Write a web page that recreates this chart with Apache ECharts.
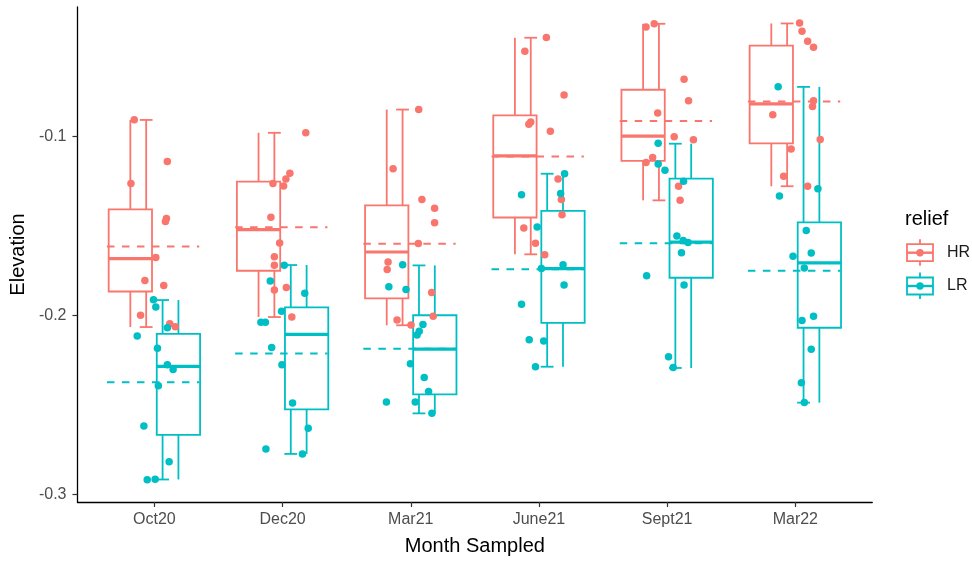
<!DOCTYPE html>
<html>
<head>
<meta charset="utf-8">
<script src="https://cdn.jsdelivr.net/npm/echarts@6/dist/echarts.min.js"></script>
<style>
  html, body { margin: 0; padding: 0; background: #fff; }
  #chart { width: 972px; height: 561px; }
</style>
</head>
<body>
<div id="chart"></div>
<script>
// x categories and y ticks
const months = ["Oct20", "Dec20", "Mar21", "June21", "Sept21", "Mar22"];
const yTicks = [-0.3, -0.2, -0.1];

// box stats per month: [lower whisker, q1, median, q3, upper whisker]
const hrStats = [
  [-0.2065, -0.1866, -0.1682, -0.1406, -0.0906],
  [-0.2009, -0.1750, -0.1520, -0.1251, -0.0978],
  [-0.2055, -0.1904, -0.1645, -0.1384, -0.0848],
  [-0.1658, -0.1452, -0.1107, -0.0881, -0.0446],
  [-0.1356, -0.1135, -0.0997, -0.0737, -0.0368],
  [-0.1277, -0.1037, -0.0816, -0.0490, -0.0366]
];
const lrStats = [
  [-0.2918, -0.2668, -0.2285, -0.2103, -0.1914],
  [-0.2775, -0.2526, -0.2106, -0.1955, -0.1718],
  [-0.2548, -0.2442, -0.2189, -0.1999, -0.1720],
  [-0.2287, -0.2042, -0.1738, -0.1415, -0.1207],
  [-0.2294, -0.1789, -0.1590, -0.1234, -0.1039],
  [-0.2488, -0.2069, -0.1706, -0.1479, -0.0721]
];

// group means (dashed lines)
const hrMean = [-0.1614, -0.1507, -0.1599, -0.1111, -0.0912, -0.0803];
const lrMean = [-0.2374, -0.2213, -0.2186, -0.1741, -0.1596, -0.1750];

// raw points: [month index, jitter, elevation]
const hrPoints = [
  [0, -0.157, -0.0905], [0, -0.183, -0.1262], [0, 0.101, -0.1138], [0, 0.094, -0.1457],
  [0, 0.086, -0.1474], [0, 0.011, -0.1676], [0, -0.074, -0.1804], [0, 0.073, -0.1832],
  [0, -0.108, -0.1999], [0, 0.120, -0.2047], [0, 0.163, -0.2064],
  [1, 0.181, -0.0978], [1, 0.057, -0.1205], [1, 0.026, -0.1236], [1, 0.008, -0.1276],
  [1, -0.075, -0.1262], [1, -0.091, -0.1450], [1, -0.023, -0.1594], [1, -0.064, -0.1671],
  [1, -0.064, -0.1719], [1, 0.029, -0.1844], [1, -0.064, -0.1857], [1, 0.072, -0.2009],
  [2, 0.062, -0.0847], [2, -0.138, -0.1179], [2, 0.087, -0.1351], [2, 0.186, -0.1400],
  [2, 0.186, -0.1481], [2, 0.059, -0.1597], [2, -0.177, -0.1701], [2, -0.184, -0.1743],
  [2, 0.163, -0.1872], [2, 0.175, -0.2005], [2, -0.107, -0.2025], [2, 0.002, -0.2054],
  [3, 0.058, -0.0444], [3, -0.110, -0.0521], [3, 0.196, -0.0766], [3, -0.064, -0.0917],
  [3, -0.079, -0.0930], [3, 0.089, -0.0969], [3, 0.149, -0.1236], [3, 0.175, -0.1351],
  [3, 0.180, -0.1437], [3, -0.118, -0.1511], [3, -0.027, -0.1596], [3, 0.045, -0.1660],
  [4, -0.101, -0.0368], [4, -0.165, -0.0386], [4, 0.132, -0.0679], [4, 0.167, -0.0798],
  [4, -0.074, -0.0867], [4, 0.055, -0.1000], [4, 0.205, -0.1017], [4, -0.113, -0.1116],
  [4, -0.165, -0.1144], [4, 0.089, -0.1277], [4, 0.101, -0.1356],
  [5, 0.033, -0.0364], [5, 0.052, -0.0410], [5, 0.096, -0.0466], [5, 0.142, -0.0499],
  [5, 0.142, -0.0798], [5, 0.134, -0.0831], [5, -0.176, -0.0877], [5, 0.194, -0.1015],
  [5, -0.033, -0.1069], [5, -0.091, -0.1221], [5, 0.096, -0.1277]
];
const lrPoints = [
  [0, -0.007, -0.1912], [0, 0.011, -0.1953], [0, 0.101, -0.2069], [0, -0.134, -0.2115],
  [0, 0.024, -0.2183], [0, 0.101, -0.2276], [0, 0.146, -0.2303], [0, 0.031, -0.2393],
  [0, -0.082, -0.2619], [0, 0.115, -0.2819], [0, -0.056, -0.2919], [0, 0.006, -0.2917],
  [1, 0.013, -0.1719], [1, -0.096, -0.1807], [1, 0.173, -0.1876], [1, -0.008, -0.1977],
  [1, -0.169, -0.2038], [1, -0.134, -0.2038], [1, -0.085, -0.2180], [1, -0.005, -0.2276],
  [1, 0.078, -0.2490], [1, 0.200, -0.2631], [1, -0.130, -0.2747], [1, 0.155, -0.2775],
  [2, -0.063, -0.1716], [2, -0.171, -0.1840], [2, -0.037, -0.1855], [2, 0.095, -0.2051],
  [2, 0.066, -0.2088], [2, 0.049, -0.2110], [2, -0.003, -0.2270], [2, 0.105, -0.2348],
  [2, 0.139, -0.2425], [2, -0.190, -0.2484], [2, 0.035, -0.2484], [2, 0.165, -0.2548],
  [3, 0.200, -0.1207], [3, 0.169, -0.1317], [3, -0.136, -0.1325], [3, -0.014, -0.1505],
  [3, 0.019, -0.1738], [3, 0.188, -0.1716], [3, 0.196, -0.1829], [3, -0.136, -0.1937],
  [3, -0.076, -0.2136], [3, 0.037, -0.2143], [3, -0.027, -0.2287],
  [4, -0.070, -0.1037], [4, -0.070, -0.1152], [4, -0.017, -0.1188], [4, 0.128, -0.1249],
  [4, 0.076, -0.1555], [4, 0.125, -0.1581], [4, 0.163, -0.1592], [4, 0.112, -0.1649],
  [4, -0.160, -0.1778], [4, 0.132, -0.1829], [4, 0.011, -0.2231], [4, 0.047, -0.2291],
  [5, -0.134, -0.0720], [5, 0.176, -0.1291], [5, -0.124, -0.1332], [5, 0.085, -0.1525],
  [5, -0.018, -0.1669], [5, 0.124, -0.1651], [5, 0.070, -0.1734], [5, 0.052, -0.2028],
  [5, 0.142, -0.2005], [5, 0.124, -0.2189], [5, 0.047, -0.2377], [5, 0.070, -0.2487]
];

const HR_COLOR = "#F8766D";
const LR_COLOR = "#00BFC4";
const FONT = "Liberation Sans, Arial, Helvetica, sans-serif";

const BOX_SHIFT = 0.1875;  // dodge of each box from month centre
const BOX_HALF = 0.169;
const EBAR_SHIFT = 0.064;  // errorbar layer is dodged narrower
const CAP_HALF = 0.05;
const LW = 1.8;

const statRows = (stats) => stats.map((s, i) => [i + 1].concat(s));

function errorbarItem(shift, color) {
  return function (params, api) {
    const x = api.value(0) + shift;
    const lo = api.coord([x, api.value(1)]);
    const hi = api.coord([x, api.value(5)]);
    const cw = api.size([CAP_HALF, 0])[0];
    const st = { stroke: color, lineWidth: LW };
    return {
      type: "group",
      children: [
        { type: "line", shape: { x1: lo[0], y1: lo[1], x2: hi[0], y2: hi[1] }, style: st },
        { type: "line", shape: { x1: lo[0] - cw, y1: lo[1], x2: lo[0] + cw, y2: lo[1] }, style: st },
        { type: "line", shape: { x1: hi[0] - cw, y1: hi[1], x2: hi[0] + cw, y2: hi[1] }, style: st }
      ]
    };
  };
}

function boxItem(shift, color) {
  return function (params, api) {
    const x = api.value(0) + shift;
    const lo = api.coord([x, api.value(1)]);
    const q1 = api.coord([x, api.value(2)]);
    const md = api.coord([x, api.value(3)]);
    const q3 = api.coord([x, api.value(4)]);
    const hi = api.coord([x, api.value(5)]);
    const hw = api.size([BOX_HALF, 0])[0];
    const st = { stroke: color, lineWidth: LW };
    return {
      type: "group",
      children: [
        { type: "line", shape: { x1: hi[0], y1: hi[1], x2: q3[0], y2: q3[1] }, style: st },
        { type: "line", shape: { x1: q1[0], y1: q1[1], x2: lo[0], y2: lo[1] }, style: st },
        {
          type: "rect",
          shape: { x: q3[0] - hw, y: q3[1], width: 2 * hw, height: q1[1] - q3[1] },
          style: { fill: "#fff", stroke: color, lineWidth: LW }
        },
        {
          type: "line",
          shape: { x1: md[0] - hw, y1: md[1], x2: md[0] + hw, y2: md[1] },
          style: { stroke: color, lineWidth: 3.2 }
        }
      ]
    };
  };
}

function meanItem(color) {
  return function (params, api) {
    const a = api.coord([api.value(0) - 0.37, api.value(1)]);
    const b = api.coord([api.value(0) + 0.35, api.value(1)]);
    return {
      type: "line",
      shape: { x1: a[0], y1: a[1], x2: b[0], y2: b[1] },
      style: { stroke: color, lineWidth: 2, lineDash: [7.5, 7.5] }
    };
  };
}

function legendKey(cy, color, label) {
  const cx = 920;
  const st = { stroke: color, lineWidth: LW };
  return [
    { type: "line", shape: { x1: cx, y1: cy - 13.5, x2: cx, y2: cy + 13 }, style: st },
    { type: "rect", shape: { x: cx - 13, y: cy - 8.5, width: 26, height: 17 }, style: { fill: "#fff", stroke: color, lineWidth: LW } },
    { type: "line", shape: { x1: cx - 13, y1: cy, x2: cx + 13, y2: cy }, style: { stroke: color, lineWidth: 2.4 } },
    { type: "circle", shape: { cx: cx, cy: cy, r: 3.7 }, style: { fill: color } },
    {
      type: "text", x: 947, y: cy,
      style: { text: label, fill: "#1a1a1a", fontSize: 16, fontFamily: FONT, verticalAlign: "middle" }
    }
  ];
}

const chart = echarts.init(document.getElementById("chart"));

chart.setOption({
  animation: false,
  backgroundColor: "#fff",
  textStyle: { fontFamily: FONT },
  grid: { left: 74, right: 99.75, top: 7, bottom: 53, containLabel: false },
  xAxis: {
    type: "value",
    min: 0.4,
    max: 6.6,
    name: "Month Sampled",
    nameLocation: "middle",
    nameGap: 34,
    nameTextStyle: { fontSize: 20, color: "#000", fontFamily: FONT },
    axisLine: { show: true, onZero: false, lineStyle: { color: "#000", width: 1.3 } },
    axisTick: { show: true, length: 5, customValues: months.map((m, i) => i + 1), lineStyle: { color: "#333", width: 1.2 } },
    axisLabel: {
      customValues: months.map((m, i) => i + 1),
      formatter: (v) => months[Math.round(v) - 1],
      color: "#4D4D4D",
      fontSize: 16,
      margin: 10
    },
    splitLine: { show: false }
  },
  yAxis: {
    type: "value",
    min: -0.3044,
    max: -0.0274,
    name: "Elevation",
    nameLocation: "middle",
    nameRotate: 90,
    nameGap: 42,
    nameTextStyle: { fontSize: 20, color: "#000", fontFamily: FONT },
    axisLine: { show: true, onZero: false, lineStyle: { color: "#000", width: 1.3 } },
    axisTick: { show: true, length: 5, customValues: yTicks, lineStyle: { color: "#333", width: 1.2 } },
    axisLabel: {
      customValues: yTicks,
      formatter: (v) => v.toFixed(1),
      color: "#4D4D4D",
      fontSize: 16,
      margin: 11
    },
    splitLine: { show: false }
  },
  series: [
    { name: "HR", type: "custom", z: 1, data: statRows(hrStats), encode: { x: 0, y: [1, 2, 3, 4, 5] }, renderItem: errorbarItem(-EBAR_SHIFT, HR_COLOR) },
    { name: "LR", type: "custom", z: 1, data: statRows(lrStats), encode: { x: 0, y: [1, 2, 3, 4, 5] }, renderItem: errorbarItem(EBAR_SHIFT, LR_COLOR) },
    { name: "HR", type: "custom", z: 2, data: statRows(hrStats), encode: { x: 0, y: [1, 2, 3, 4, 5] }, renderItem: boxItem(-BOX_SHIFT, HR_COLOR) },
    { name: "LR", type: "custom", z: 2, data: statRows(lrStats), encode: { x: 0, y: [1, 2, 3, 4, 5] }, renderItem: boxItem(BOX_SHIFT, LR_COLOR) },
    { name: "HR", type: "custom", z: 3, data: hrMean.map((m, i) => [i + 1, m]), encode: { x: 0, y: 1 }, renderItem: meanItem(HR_COLOR) },
    { name: "LR", type: "custom", z: 3, data: lrMean.map((m, i) => [i + 1, m]), encode: { x: 0, y: 1 }, renderItem: meanItem(LR_COLOR) },
    {
      name: "HR", type: "scatter", z: 4, symbolSize: 7.5,
      itemStyle: { color: HR_COLOR, opacity: 1 },
      data: hrPoints.map((p) => [p[0] + 1 + p[1], p[2]])
    },
    {
      name: "LR", type: "scatter", z: 4, symbolSize: 7.5,
      itemStyle: { color: LR_COLOR, opacity: 1 },
      data: lrPoints.map((p) => [p[0] + 1 + p[1], p[2]])
    }
  ],
  graphic: [
    {
      type: "text", x: 905, y: 219,
      style: { text: "relief", fill: "#000", fontSize: 20, fontFamily: FONT, verticalAlign: "middle" }
    }
  ].concat(legendKey(252.7, HR_COLOR, "HR"), legendKey(286, LR_COLOR, "LR"))
});
</script>
</body>
</html>
